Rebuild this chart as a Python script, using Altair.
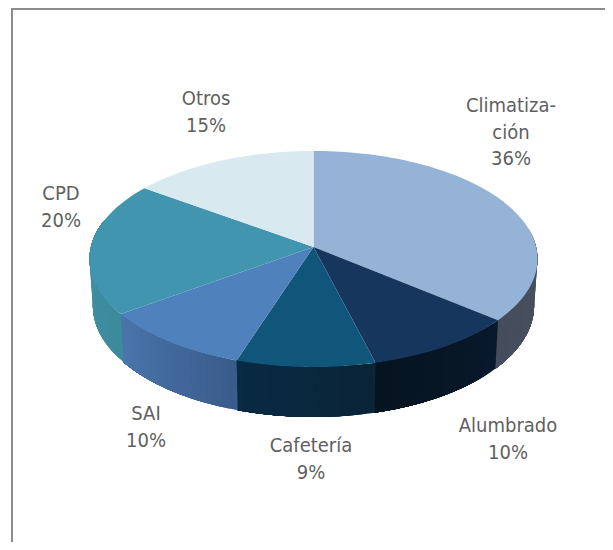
import math
import altair as alt

# ---- data -------------------------------------------------------------
categories = ["Climatización", "Alumbrado", "Cafetería", "SAI", "CPD", "Otros"]
shares = [36, 10, 9, 10, 20, 15]
label_lines = ["Climatiza-\nción", "Alumbrado", "Cafetería", "SAI", "CPD", "Otros"]

# ---- styles ------------------------------------------------------------
top_colors = ["#95b3d7", "#17365d", "#10557a", "#4f81bd", "#4195ae", "#d8eaf0"]
wall_from = ["#4a5263", "#08192b", "#0a2438", "#3a5c8b", "#3c8a9c", "#3f93aa"]
wall_to = ["#454d5c", "#061420", "#082a42", "#4a75ac", "#3f93aa", "#3c8a9c"]
TEXT = "#5f5f5f"
FRAME = "#8c8c8c"

# ---- layout (pixels, chart coordinates) --------------------------------
W, H = 597, 534
APEX_X, APEX_Y = 305.5, 239
A, B, K = 222.6, 106.67, 0.111   # perspective disc
SHRINK = 0.985
label_pos = [(503, 98), (500, 418), (303, 438), (138, 406), (53, 186), (198, 91)]


def disc(deg):
    t = math.radians(deg)
    u, v = math.sin(t), math.cos(t)
    w = 1 + K * v
    return A * u / w, B * v / w, v


def wall_point(deg):
    x, y, v = disc(deg)
    d = 46 - 4 * v
    return x * SHRINK, y - d


def feature(points, color):
    ring = [[round(p[0], 2), round(p[1], 2)] for p in points]
    ring.append(ring[0])
    return {
        "type": "Feature",
        "properties": {"color": color},
        "geometry": {"type": "Polygon", "coordinates": [ring]},
    }


def mix(c1, c2, f):
    a = [int(c1[i:i + 2], 16) for i in (1, 3, 5)]
    b = [int(c2[i:i + 2], 16) for i in (1, 3, 5)]
    return "#%02x%02x%02x" % tuple(round(p + (q - p) * f) for p, q in zip(a, b))


total = sum(shares)
edges = [0]
for s in shares:
    edges.append(edges[-1] + s * 360 / total)

tops, walls = [], []
for i, color in enumerate(top_colors):
    a0, a1 = edges[i], edges[i + 1]
    n = max(2, int((a1 - a0) / 1.5))
    angles = [a0 + (a1 - a0) * j / n for j in range(n + 1)]
    tops.append(feature([(0, 0)] + [disc(a)[:2] for a in angles], color))
    # side wall, visible front part only; each strip runs on to the end of its
    # slice and is painted over by the next one, so no seams show
    lo, hi = max(a0, 80), min(a1, 285)
    if lo < hi:
        m = max(2, int((hi - lo) / 2))
        for j in range(m):
            s0 = lo + (hi - lo) * j / m
            steps = [s0 + (hi - s0) * k / 24 for k in range(25)]
            q = [disc(s)[:2] for s in steps] + [wall_point(s) for s in reversed(steps)]
            walls.append(feature(q, mix(wall_from[i], wall_to[i], j / (m - 1))))


def shapes(features):
    return (
        alt.Chart(alt.Data(values=features))
        .mark_geoshape(strokeWidth=0, opacity=1)
        .encode(color=alt.Color("properties.color:N", scale=None, legend=None))
        .project(type="identity", reflectY=True, scale=1, translate=[APEX_X, APEX_Y])
    )


layers = [shapes(walls), shapes(tops)]

layers.append(
    alt.Chart(alt.Data(values=[{"a": 1}])).mark_rule(color=FRAME, strokeWidth=2).encode(
        x=alt.value(4), y=alt.value(0), y2=alt.value(H)
    )
)
layers.append(
    alt.Chart(alt.Data(values=[{"a": 1}])).mark_rule(color=FRAME, strokeWidth=2).encode(
        x=alt.value(3), x2=alt.value(W), y=alt.value(1)
    )
)

for text, share, (x, y) in zip(label_lines, shares, label_pos):
    layers.append(
        alt.Chart(alt.Data(values=[{"t": f"{text}\n{share}%"}]))
        .mark_text(
            font="DejaVu Sans Condensed",
            fontSize=20,
            color=TEXT,
            align="center",
            baseline="middle",
            lineBreak="\n",
            lineHeight=26.5,
        )
        .encode(text="t:N", x=alt.value(x), y=alt.value(y))
    )

chart = (
    alt.layer(*layers)
    .properties(width=W, height=H, padding=0, background="white", autosize=alt.AutoSizeParams(type="none"))
    .configure_view(stroke=None)
)

chart.save("out.html", embed_options={"renderer": "svg", "actions": False})
